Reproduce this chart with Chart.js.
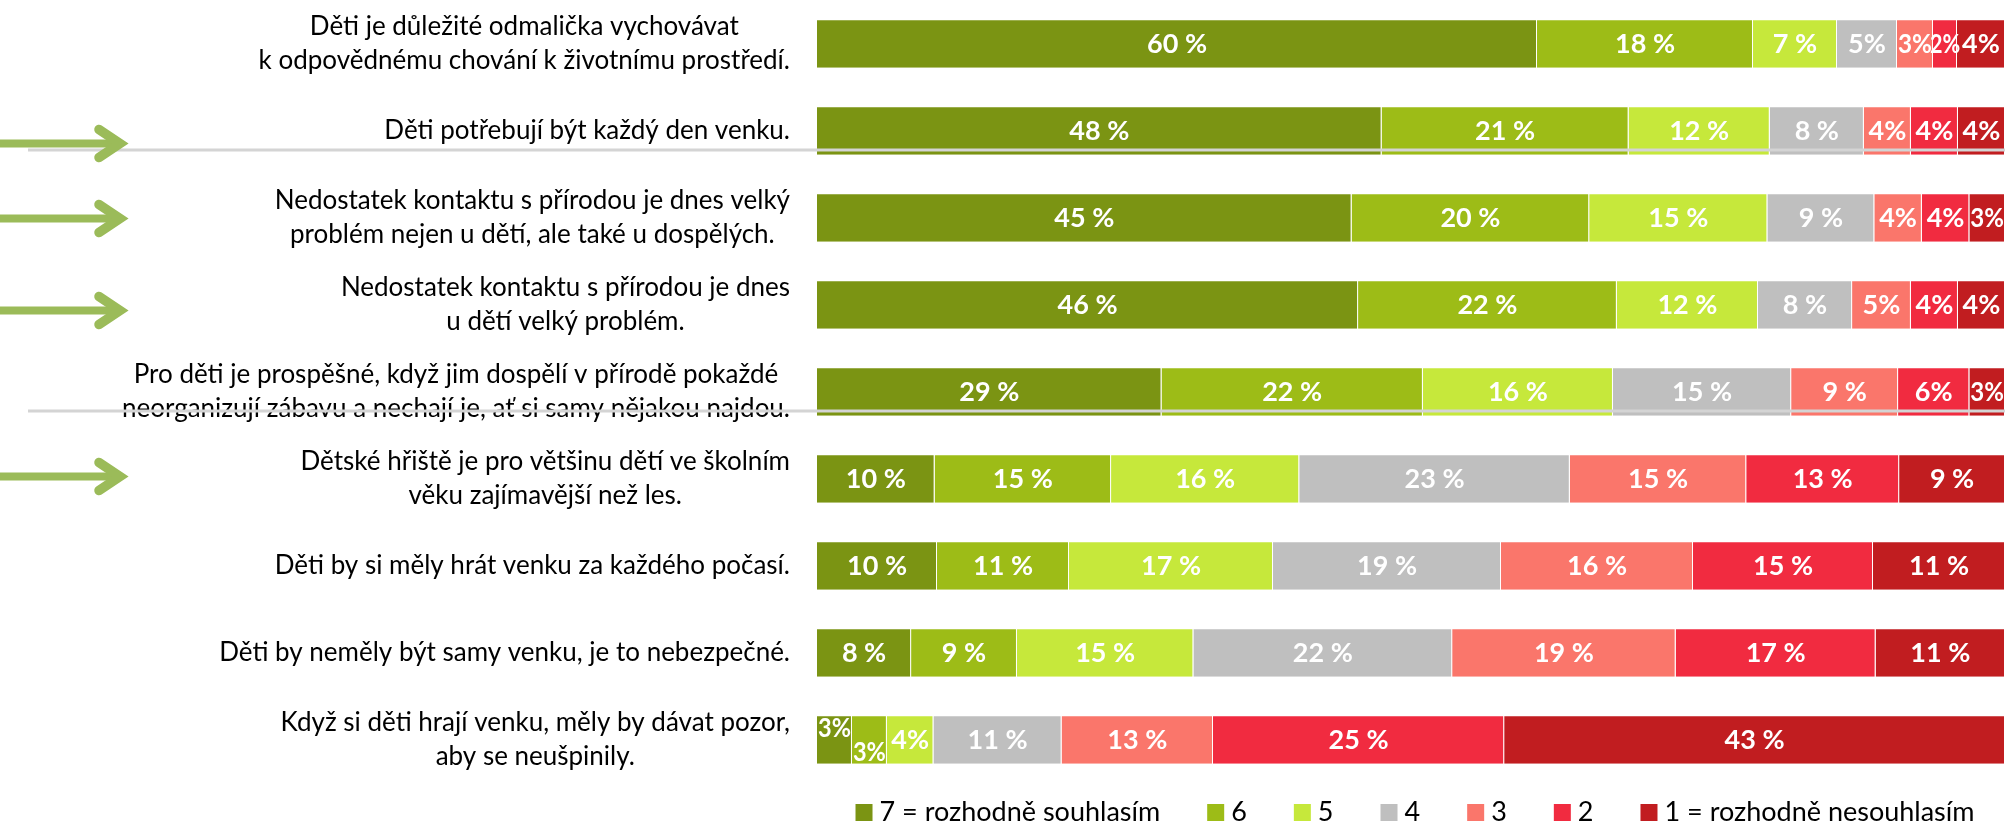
<!DOCTYPE html>
<html><head><meta charset="utf-8">
<script src="https://cdn.jsdelivr.net/npm/chart.js@4.4.1/dist/chart.umd.min.js"></script>
<style>html,body{margin:0;padding:0;background:#fff;overflow:hidden}</style>
</head><body>
<canvas id="c" width="2005" height="824"></canvas>
<script>
// ---- data ----
const categories = [
  ["Děti je důležité odmalička vychovávat", "k odpovědnému chování k životnímu prostředí."],
  ["Děti potřebují být každý den venku."],
  ["Nedostatek kontaktu s přírodou je dnes velký", "problém nejen u dětí, ale také u dospělých."],
  ["Nedostatek kontaktu s přírodou je dnes", "u dětí velký problém."],
  ["Pro děti je prospěšné, když jim dospělí v přírodě pokaždé", "neorganizují zábavu a nechají je, ať si samy nějakou najdou."],
  ["Dětské hřiště je pro většinu dětí ve školním", "věku zajímavější než les."],
  ["Děti by si měly hrát venku za každého počasí."],
  ["Děti by neměly být samy venku, je to nebezpečné."],
  ["Když si děti hrají venku, měly by dávat pozor,", "aby se neušpinily."]
];
const seriesNames = ["7 = rozhodně souhlasím", "6", "5", "4", "3", "2", "1 = rozhodně nesouhlasím"];
const s7 = [60, 48, 45, 46, 29, 10, 10, 8, 3];
const s6 = [18, 21, 20, 22, 22, 15, 11, 9, 3];
const s5 = [7, 12, 15, 12, 16, 16, 17, 15, 4];
const s4 = [5, 8, 9, 8, 15, 23, 19, 22, 11];
const s3 = [3, 4, 4, 5, 9, 15, 16, 19, 13];
const s2 = [2, 4, 4, 4, 6, 13, 15, 17, 25];
const s1 = [4, 4, 3, 4, 3, 9, 11, 11, 43];
const highlightedRows = [1, 2, 3, 5];   // rows marked with an arrow
const dividerRows = [1, 4];             // rows followed by a grey divider line

// ---- styles ----
const colors = ["#7B9413", "#9DBC17", "#C6E83B", "#BFBFBF", "#FA766B", "#F12B40", "#C11D20"];
const arrowDy = [13, 1, 6, -2];
const LABEL_FONT = "26px Lato";
const LEGEND_FONT = "27px Lato";
const VALUE_FONT = "bold 27px Lato";

const series = [s7, s6, s5, s4, s3, s2, s1];
const rowSums = categories.map((_, i) => series.reduce((a, s) => a + s[i], 0));

const datasets = series.map((s, k) => ({
  label: seriesNames[k],
  raw: s,
  data: s.map((v, i) => v / rowSums[i] * 100),
  backgroundColor: colors[k],
  borderColor: "rgba(255,255,255,0.45)",
  borderWidth: {top: 1, right: 1, bottom: 0, left: 0},
  borderSkipped: false,
  barPercentage: 1,
  categoryPercentage: 0.556
}));

const valueLabels = {
  id: "valueLabels",
  afterDatasetsDraw(chart) {
    const ctx = chart.ctx;
    ctx.save();
    ctx.font = VALUE_FONT;
    ctx.fillStyle = "#fff";
    ctx.textAlign = "center";
    ctx.textBaseline = "middle";
    const n = chart.data.datasets.length;
    const widths = [];
    for (let k = 0; k < n; k++) {
      const meta = chart.getDatasetMeta(k);
      widths.push(meta.data.map(b => Math.abs(b.x - b.base)));
    }
    const TIGHT = 35.5;
    for (let k = 0; k < n; k++) {
      const ds = chart.data.datasets[k];
      const meta = chart.getDatasetMeta(k);
      meta.data.forEach((bar, i) => {
        const v = ds.raw[i];
        const w = widths[k][i];
        const txt = v <= 6 ? v + "%" : v + " %";
        const cx = (bar.x + bar.base) / 2;
        let cy = bar.y + 1;
        const narrow = w < TIGHT;
        const prevNarrow = k > 0 && widths[k - 1][i] < TIGHT;
        const nextNarrow = k < n - 1 && widths[k + 1][i] < TIGHT;
        if (narrow && nextNarrow && !prevNarrow) cy -= 12;
        else if (narrow && prevNarrow) cy += 12;
        const tw = ctx.measureText(txt).width;
        const sx = tw > w - 2 ? Math.max(0.8, (w - 2) / tw) : 1;
        ctx.save();
        ctx.translate(cx, cy);
        ctx.scale(sx, 1);
        ctx.fillText(txt, 0, 0);
        ctx.restore();
      });
    }
    ctx.restore();
  }
};

const categoryLabels = {
  id: "categoryLabels",
  afterDraw(chart) {
    const ctx = chart.ctx, ys = chart.scales.y;
    ctx.save();
    ctx.font = LABEL_FONT;
    ctx.fillStyle = "#000";
    ctx.textAlign = "center";
    ctx.textBaseline = "middle";
    const right = chart.chartArea.left - 27;
    categories.forEach((lines, i) => {
      const y = ys.getPixelForValue(i);
      const maxW = Math.max(...lines.map(l => ctx.measureText(l).width));
      const cx = right - maxW / 2;
      lines.forEach((l, j) => {
        ctx.fillText(l, cx, y + (j - (lines.length - 1) / 2) * 34);
      });
    });
    ctx.restore();
  }
};

const overlays = {
  id: "overlays",
  afterDraw(chart) {
    const ctx = chart.ctx, ys = chart.scales.y;
    ctx.save();
    ctx.strokeStyle = "#d4d4d4";
    ctx.lineWidth = 3;
    dividerRows.forEach(r => {
      const y = ys.getPixelForValue(r) + 19.5;
      ctx.beginPath();
      ctx.moveTo(28, y);
      ctx.lineTo(chart.width, y);
      ctx.stroke();
    });
    ctx.strokeStyle = "#9BBB59";
    highlightedRows.forEach((r, j) => {
      const y = ys.getPixelForValue(r) + arrowDy[j];
      ctx.lineCap = "butt";
      ctx.lineWidth = 8;
      ctx.beginPath();
      ctx.moveTo(0, y);
      ctx.lineTo(121, y);
      ctx.stroke();
      ctx.lineWidth = 9.5;
      ctx.lineCap = "round";
      ctx.lineJoin = "miter";
      ctx.beginPath();
      ctx.moveTo(99, y - 14);
      ctx.lineTo(120, y);
      ctx.lineTo(99, y + 14);
      ctx.stroke();
    });
    ctx.restore();
  }
};

const legendPlugin = {
  id: "bottomLegend",
  afterDraw(chart) {
    const ctx = chart.ctx;
    ctx.save();
    ctx.font = LEGEND_FONT;
    ctx.textAlign = "left";
    ctx.textBaseline = "alphabetic";
    const box = 17, gap = 7, itemGap = 47;
    const items = chart.data.datasets.map(d => ({t: d.label, c: d.backgroundColor, w: ctx.measureText(d.label).width}));
    const total = items.reduce((a, it) => a + box + gap + it.w, 0) + itemGap * (items.length - 1);
    let x = (chart.chartArea.left + chart.chartArea.right) / 2 + 4 - total / 2;
    const boxTop = 804, base = 821;
    items.forEach(it => {
      ctx.fillStyle = it.c;
      ctx.fillRect(x, boxTop, box, box);
      ctx.fillStyle = "#000";
      ctx.fillText(it.t, x + box + gap, base);
      x += box + gap + it.w + itemGap;
    });
    ctx.restore();
  }
};

function draw() {
  new Chart(document.getElementById("c"), {
    type: "bar",
    data: {labels: categories.map(l => l.join(" ")), datasets},
    options: {
      indexAxis: "y",
      responsive: false,
      animation: false,
      layout: {padding: {left: 817, right: 0, top: 0, bottom: 41}},
      plugins: {legend: {display: false}, tooltip: {enabled: false}},
      scales: {
        x: {stacked: true, min: 0, max: 100, display: false},
        y: {stacked: true, display: false}
      }
    },
    plugins: [valueLabels, categoryLabels, overlays, legendPlugin]
  });
}
Promise.all([document.fonts.load(LABEL_FONT), document.fonts.load(LEGEND_FONT), document.fonts.load(VALUE_FONT)]).then(draw, draw);
</script>
</body></html>
